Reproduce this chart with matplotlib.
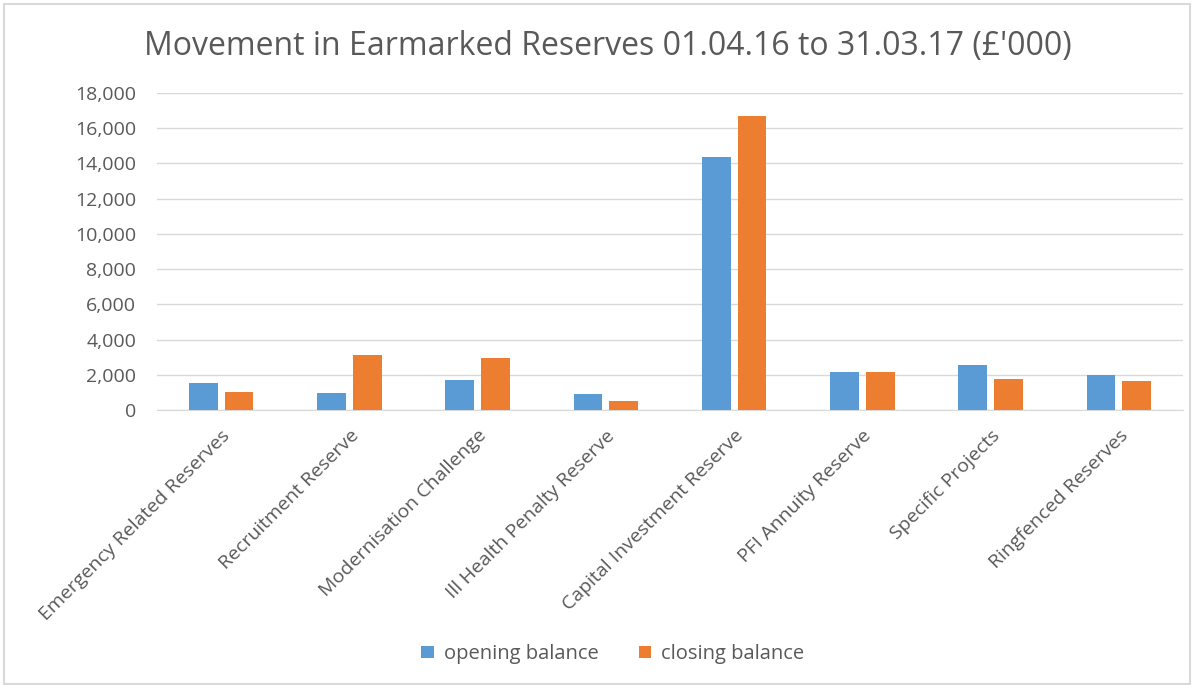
import matplotlib.pyplot as plt
import numpy as np
from matplotlib.patches import Rectangle

categories = ["Emergency Related Reserves", "Recruitment Reserve", "Modernisation Challenge",
              "Ill Health Penalty Reserve", "Capital Investment Reserve", "PFI Annuity Reserve",
              "Specific Projects", "Ringfenced Reserves"]
opening = [1550, 970, 1690, 910, 14380, 2140, 2540, 1970]
closing = [1020, 3110, 2970, 510, 16700, 2150, 1745, 1630]
yticks = list(range(0, 18001, 2000))

plt.rcParams['font.family'] = ['Open Sans', 'DejaVu Sans']
grey = '#595959'

fig = plt.figure(figsize=(11.99, 6.85), dpi=100)
ax = fig.add_axes([157/1199, 1 - 410/685, 1026/1199, 317/685])

x = np.arange(len(categories))
w = 0.225
ax.bar(x - 0.139, opening, w, color='#5b9bd5', label='opening balance', zorder=3)
ax.bar(x + 0.139, closing, w, color='#ed7d31', label='closing balance', zorder=3)

ax.set_xlim(-0.5, len(categories) - 0.5)
ax.set_ylim(0, 18000)
ax.set_yticks(yticks)
ax.set_yticklabels([f"{v:,}" for v in yticks], color=grey, fontsize=14)
ax.yaxis.grid(True, color='#d9d9d9', linewidth=1, zorder=0)
ax.set_xticks(x)
ax.set_xticklabels(categories, rotation=45, ha='right', rotation_mode='anchor',
                   color=grey, fontsize=14)
ax.tick_params(axis='y', length=0, pad=15)
ax.tick_params(axis='x', length=0, pad=12)
for s in ['top', 'right', 'left']:
    ax.spines[s].set_visible(False)
ax.spines['bottom'].set_color('#d9d9d9')

fig.text(0.507, 1 - 47/685, "Movement in Earmarked Reserves 01.04.16 to 31.03.17 (£'000)",
         ha='center', va='center', fontsize=23, color=grey)

fig.legend(loc='center', bbox_to_anchor=(0.511, 1 - 654/685), ncol=2, frameon=False,
           fontsize=14.5, labelcolor=grey, handlelength=0.6, handleheight=0.6,
           columnspacing=2.0, handletextpad=0.5)

fig.patches.append(Rectangle((4/1199, 0.002), 1186/1199, 1 - 4/685 - 0.002,
                             transform=fig.transFigure, fill=False,
                             edgecolor='#d9d9d9', linewidth=1.5))

fig.savefig('out.png', dpi=100)
